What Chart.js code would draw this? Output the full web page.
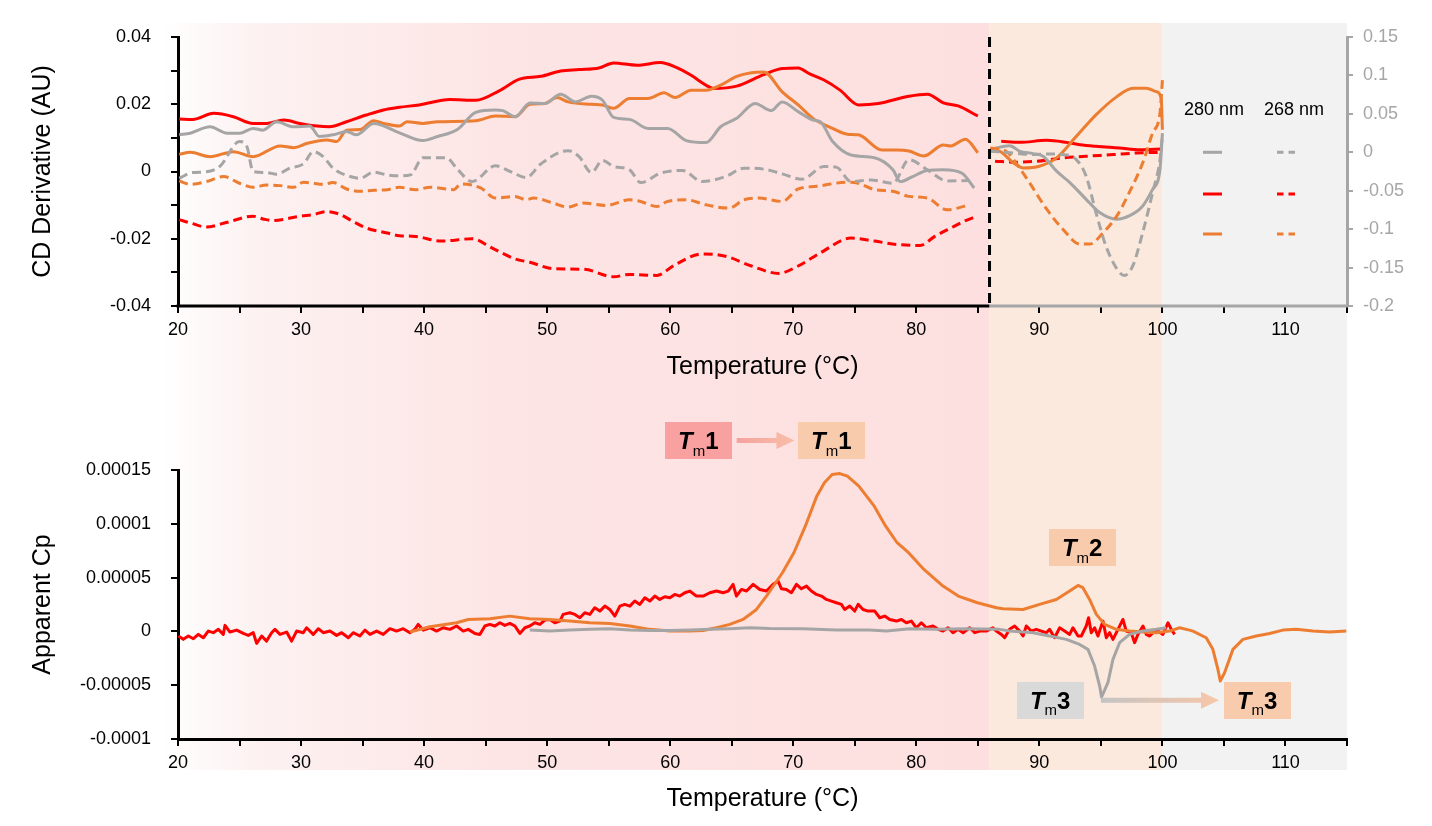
<!DOCTYPE html>
<html><head><meta charset="utf-8">
<script src="https://cdn.jsdelivr.net/npm/chart.js@4.4.0/dist/chart.umd.min.js"></script>
<style>
html,body{margin:0;padding:0;background:#fff;}
#wrap{position:relative;width:1432px;height:826px;overflow:hidden;}
#wrap canvas{position:absolute;left:0;top:0;}
</style></head><body>
<div id="wrap"><canvas id="cBottom" width="1432" height="826"></canvas><canvas id="cTop" width="1432" height="826"></canvas></div>
<script>
// ---------------- DATA ----------------
// Top panel, left part (CD derivative, left axis), [temperature, value]
const cdGray280 = [[20.1,0.0109],[21.0,0.0114],[22.6,0.0133],[24.0,0.0114],[25.0,0.0114],[26.1,0.0128],[26.9,0.0123],[28.0,0.0148],[29.4,0.0133],[30.7,0.0135],[31.5,0.0104],[32.6,0.0109],[33.7,0.0119],[34.5,0.0109],[35.9,0.0143],[38.0,0.0115],[39.9,0.0092],[41.1,0.0104],[42.7,0.0125],[44.2,0.0176],[45.8,0.0183],[46.4,0.0181],[47.4,0.0163],[48.6,0.0204],[49.8,0.0202],[51.1,0.0230],[52.3,0.0207],[53.6,0.0224],[54.5,0.0212],[55.4,0.0161],[56.7,0.0155],[58.2,0.0128],[59.8,0.0128],[61.3,0.0092],[62.9,0.0086],[64.1,0.0133],[65.4,0.0158],[66.9,0.0202],[68.2,0.0181],[69.1,0.0207],[70.4,0.0178],[71.6,0.0153],[72.2,0.0148],[73.2,0.0089],[74.7,0.0049],[76.6,0.0041],[78.1,0.0005],[78.7,-0.0030],[79.7,-0.0015],[80.9,0.0003],[82.2,0.0005],[83.7,-0.0005],[84.7,-0.0049]];
const cdGray268 = [[20.1,-0.0020],[21.2,-0.0003],[22.3,-0.0001],[23.4,0.0015],[25.0,0.0089],[25.6,0.0074],[26.1,0.0000],[27.2,-0.0003],[28.0,-0.0008],[29.1,0.0010],[30.2,0.0023],[31.0,0.0059],[31.8,0.0044],[32.6,0.0010],[34.0,-0.0015],[34.8,-0.0020],[35.9,-0.0002],[37.0,-0.0010],[38.0,-0.0013],[38.9,-0.0010],[39.9,0.0041],[41.8,0.0041],[42.7,0.0007],[43.9,-0.0030],[45.8,0.0017],[47.0,0.0000],[48.3,-0.0018],[49.5,0.0023],[51.7,0.0062],[52.6,0.0044],[53.6,-0.0003],[54.5,0.0033],[55.4,0.0015],[56.7,0.0005],[57.6,-0.0033],[59.2,-0.0005],[61.0,0.0003],[62.6,-0.0030],[64.5,-0.0015],[66.0,0.0010],[67.6,0.0007],[69.1,-0.0007],[70.7,-0.0023],[72.5,0.0015],[73.5,0.0013],[74.7,-0.0030],[76.3,-0.0025],[78.1,-0.0035],[79.4,0.0035],[80.9,0.0005],[82.5,-0.0028],[84.3,-0.0027]];
const cdRed280 = [[20.1,0.0156],[21.2,0.0155],[22.9,0.0173],[24.5,0.0163],[26.1,0.0143],[27.2,0.0143],[28.6,0.0153],[29.9,0.0143],[31.3,0.0135],[32.3,0.0133],[33.7,0.0148],[35.3,0.0168],[36.7,0.0183],[38.0,0.0191],[39.6,0.0198],[42.1,0.0214],[44.2,0.0212],[46.1,0.0240],[47.7,0.0274],[49.5,0.0283],[51.1,0.0299],[52.6,0.0303],[54.2,0.0308],[55.4,0.0323],[57.3,0.0316],[59.2,0.0324],[60.4,0.0311],[61.7,0.0286],[62.9,0.0257],[63.5,0.0247],[65.4,0.0254],[67.6,0.0288],[69.1,0.0306],[70.4,0.0308],[71.3,0.0291],[72.5,0.0272],[73.8,0.0242],[75.3,0.0198],[76.9,0.0202],[79.4,0.0224],[80.9,0.0230],[82.2,0.0204],[83.4,0.0195],[85.0,0.0165]];
const cdRed268 = [[20.1,-0.0143],[21.0,-0.0153],[22.3,-0.0165],[24.0,-0.0151],[26.1,-0.0133],[26.9,-0.0141],[27.7,-0.0146],[28.8,-0.0141],[29.9,-0.0133],[31.0,-0.0128],[32.1,-0.0119],[33.2,-0.0128],[34.2,-0.0148],[35.3,-0.0168],[37.0,-0.0183],[38.0,-0.0191],[39.3,-0.0193],[41.4,-0.0207],[43.9,-0.0200],[45.5,-0.0227],[47.4,-0.0260],[48.6,-0.0270],[50.5,-0.0289],[53.0,-0.0291],[55.4,-0.0313],[56.7,-0.0306],[58.9,-0.0309],[60.4,-0.0277],[62.6,-0.0245],[64.5,-0.0252],[66.6,-0.0281],[68.8,-0.0303],[70.4,-0.0281],[72.2,-0.0242],[74.7,-0.0198],[76.6,-0.0207],[78.4,-0.0217],[80.3,-0.0220],[81.5,-0.0193],[82.8,-0.0168],[84.0,-0.0146],[84.8,-0.0135]];
const cdOrange280 = [[20.1,0.0051],[21.0,0.0057],[22.6,0.0044],[24.5,0.0059],[26.1,0.0044],[28.3,0.0076],[29.4,0.0071],[30.5,0.0084],[32.1,0.0094],[32.9,0.0089],[33.7,0.0123],[34.8,0.0125],[35.9,0.0151],[36.7,0.0143],[38.0,0.0135],[38.6,0.0148],[39.9,0.0143],[41.1,0.0148],[44.2,0.0151],[45.8,0.0165],[47.4,0.0163],[48.6,0.0200],[49.8,0.0202],[50.8,0.0220],[51.7,0.0207],[53.6,0.0200],[54.5,0.0198],[55.4,0.0188],[56.7,0.0217],[58.2,0.0217],[59.5,0.0234],[60.4,0.0220],[61.7,0.0242],[62.9,0.0242],[64.1,0.0257],[65.4,0.0283],[66.6,0.0294],[67.6,0.0296],[69.1,0.0237],[70.4,0.0198],[71.6,0.0158],[73.2,0.0128],[74.4,0.0111],[75.3,0.0109],[77.2,0.0064],[78.4,0.0064],[79.4,0.0061],[80.6,0.0046],[82.2,0.0079],[82.8,0.0076],[84.0,0.0096],[85.0,0.0056]];
const cdOrange268 = [[20.1,-0.0028],[21.0,-0.0038],[22.3,-0.0030],[23.7,-0.0015],[25.0,-0.0035],[26.1,-0.0047],[27.2,-0.0040],[28.3,-0.0042],[29.4,-0.0047],[30.2,-0.0032],[31.0,-0.0035],[31.8,-0.0038],[32.6,-0.0033],[33.7,-0.0052],[34.8,-0.0059],[35.9,-0.0056],[37.0,-0.0054],[38.0,-0.0047],[39.3,-0.0054],[40.5,-0.0047],[42.4,-0.0054],[43.0,-0.0037],[44.6,-0.0049],[45.8,-0.0079],[47.4,-0.0074],[48.3,-0.0084],[48.9,-0.0079],[50.5,-0.0094],[51.7,-0.0106],[52.9,-0.0094],[54.8,-0.0101],[56.7,-0.0084],[57.6,-0.0089],[58.9,-0.0104],[59.8,-0.0089],[61.3,-0.0084],[62.9,-0.0099],[64.8,-0.0109],[66.0,-0.0084],[67.2,-0.0079],[69.1,-0.0089],[70.4,-0.0052],[71.9,-0.0044],[74.4,-0.0032],[75.3,-0.0035],[76.6,-0.0054],[78.1,-0.0059],[79.4,-0.0074],[80.9,-0.0079],[82.5,-0.0114],[84.3,-0.0099]];

// Top panel, right part (right axis)
const hiGray280 = [[86.0,0.0034],[87.6,0.0086],[88.4,0.0013],[89.5,-0.0017],[90.3,-0.0052],[91.4,-0.0246],[92.5,-0.0397],[93.8,-0.0612],[94.9,-0.0784],[96.3,-0.0871],[97.3,-0.0828],[98.4,-0.0698],[99.2,-0.0483],[99.8,-0.0224],[100.0,0.025]];
const hiGray268 = [[86.0,0.0013],[87.9,-0.0009],[89.5,-0.0030],[90.6,-0.0022],[91.9,-0.0030],[93.0,-0.0095],[93.8,-0.0310],[94.6,-0.0784],[95.4,-0.1216],[96.3,-0.1517],[96.9,-0.1603],[97.6,-0.1474],[98.4,-0.1043],[99.2,-0.0526],[99.8,-0.0095],[100.0,0.0228]];
const hiRed280 = [[86.9,0.0142],[88.4,0.0129],[90.6,0.0155],[92.2,0.0129],[93.3,0.0099],[94.6,0.0078],[96.5,0.0056],[98.2,0.0034],[100.0,0.0043]];
const hiRed268 = [[86.4,-0.0116],[87.9,-0.0129],[89.8,-0.0116],[91.9,-0.0073],[93.8,-0.0052],[96.0,-0.0030],[97.9,-0.0009],[100.0,0.0]];
const hiOrange280 = [[86.0,0.0034],[86.8,0.0013],[87.9,-0.0138],[88.7,-0.0203],[90.0,-0.0181],[91.4,-0.0073],[93.0,0.0207],[94.6,0.0487],[96.3,0.0724],[97.6,0.0832],[98.7,0.0832],[99.5,0.0789],[99.9,0.0703],[100.0,0.0293]];
const hiOrange268 = [[86.0,0.0056],[87.3,0.0013],[88.1,-0.0138],[89.2,-0.0397],[90.6,-0.0741],[91.9,-0.1000],[93.3,-0.1194],[94.1,-0.1194],[95.2,-0.1043],[96.3,-0.0828],[97.3,-0.0526],[98.4,-0.0138],[99.2,0.0250],[99.8,0.0509],[100.0,0.094]];

// Bottom panel (apparent Cp)
const cpRed = [[20.03,-4.3e-6],[20.43,-7.4e-6],[20.84,-4.3e-6],[21.25,-6.8e-6],[21.65,-2.8e-6],[22.06,-5.9e-6],[22.46,0.3e-6],[22.87,-1.2e-6],[23.28,1.9e-6],[23.68,-2.8e-6],[23.82,5.6e-6],[24.22,-0.6e-6],[24.77,1.2e-6],[25.31,-1.9e-6],[25.71,-3.7e-6],[26.12,-1.2e-6],[26.39,-11.1e-6],[26.8,-4.3e-6],[27.2,-9.0e-6],[27.61,-1.2e-6],[27.88,1.9e-6],[28.29,-2.8e-6],[28.83,-0.6e-6],[29.23,-9.0e-6],[29.64,0.3e-6],[30.18,-1.2e-6],[30.45,3.4e-6],[30.99,-2.8e-6],[31.4,2.5e-6],[31.81,-1.2e-6],[32.35,0.3e-6],[32.89,-3.7e-6],[33.3,-1.2e-6],[33.84,-5.9e-6],[34.24,-1.2e-6],[34.78,-4.3e-6],[35.19,1.2e-6],[35.6,-2.8e-6],[36.14,0.3e-6],[36.68,-2.8e-6],[37.22,2.5e-6],[37.76,0.3e-6],[38.3,2.5e-6],[38.85,-1.2e-6],[39.25,1.9e-6],[39.52,6.5e-6],[39.93,1.2e-6],[40.47,3.4e-6],[41.01,0.3e-6],[41.55,3.4e-6],[42.1,1.9e-6],[42.64,5.0e-6],[43.18,0.3e-6],[43.59,1.9e-6],[44.13,-1.9e-6],[44.53,-2.8e-6],[44.94,5.0e-6],[45.34,6.5e-6],[45.75,5.0e-6],[46.16,8.0e-6],[46.56,5.6e-6],[46.97,7.4e-6],[47.38,5.0e-6],[47.78,-1.9e-6],[48.19,3.4e-6],[48.59,5.0e-6],[49.0,8.0e-6],[49.41,6.5e-6],[49.81,10.5e-6],[50.22,11.1e-6],[50.62,8.0e-6],[51.03,9.6e-6],[51.3,15.8e-6],[51.84,17.3e-6],[52.25,15.8e-6],[52.66,12.7e-6],[53.06,17.3e-6],[53.47,15.8e-6],[53.87,22.0e-6],[54.28,18.9e-6],[54.69,23.5e-6],[55.09,20.4e-6],[55.5,14.2e-6],[55.91,23.5e-6],[56.31,25.1e-6],[56.72,23.5e-6],[57.12,28.2e-6],[57.53,25.1e-6],[57.94,31.3e-6],[58.34,28.2e-6],[58.75,32.8e-6],[59.15,29.7e-6],[59.56,32.2e-6],[59.97,31.3e-6],[60.37,34.4e-6],[60.78,32.8e-6],[61.19,35.9e-6],[61.59,37.5e-6],[62.13,32.8e-6],[62.68,32.8e-6],[63.22,35.9e-6],[63.76,37.5e-6],[64.3,35.9e-6],[64.71,37.5e-6],[65.11,43.7e-6],[65.38,32.8e-6],[65.79,39.0e-6],[66.2,37.5e-6],[66.74,43.7e-6],[67.28,39.0e-6],[67.82,37.5e-6],[68.36,43.7e-6],[68.77,46.7e-6],[69.04,39.6e-6],[69.44,39.0e-6],[69.85,35.9e-6],[70.26,43.7e-6],[70.66,39.6e-6],[71.07,42.1e-6],[71.47,37.5e-6],[71.88,34.4e-6],[72.29,32.8e-6],[72.69,29.7e-6],[73.1,28.2e-6],[73.5,26.6e-6],[73.91,25.1e-6],[74.18,20.4e-6],[74.59,23.5e-6],[74.99,18.9e-6],[75.27,25.1e-6],[75.67,20.4e-6],[76.08,18.9e-6],[76.62,18.9e-6],[77.03,12.7e-6],[77.43,14.2e-6],[77.84,11.1e-6],[78.38,9.6e-6],[78.79,11.1e-6],[79.19,8.0e-6],[79.6,9.6e-6],[80.0,3.4e-6],[80.41,8.0e-6],[80.82,3.4e-6],[81.36,5.0e-6],[81.77,1.9e-6],[82.17,0.3e-6],[82.58,3.4e-6],[82.98,-1.2e-6],[83.39,1.9e-6],[83.8,-1.2e-6],[84.34,3.4e-6],[84.75,-1.2e-6],[85.15,0.3e-6],[85.69,0.3e-6],[85.96,1.9e-6],[86.23,3.4e-6],[86.5,0.3e-6],[86.91,-2.8e-6],[87.18,-5.9e-6],[87.58,1.9e-6],[87.99,5.0e-6],[88.4,0.3e-6],[88.67,-4.3e-6],[88.94,5.0e-6],[89.34,0.3e-6],[89.75,1.9e-6],[90.16,0.3e-6],[90.56,-1.2e-6],[90.83,1.9e-6],[91.24,-5.9e-6],[91.65,3.4e-6],[92.05,0.3e-6],[92.46,-2.8e-6],[92.73,3.4e-6],[93.14,-4.3e-6],[93.41,-4.3e-6],[93.81,5.0e-6],[94.0,12.7e-6],[94.22,-1.2e-6],[94.49,3.4e-6],[94.76,-4.3e-6],[95.17,9.6e-6],[95.44,-5.9e-6],[95.71,-1.2e-6],[95.98,-7.4e-6],[96.39,1.9e-6],[96.79,11.1e-6],[97.06,0.3e-6],[97.47,-1.2e-6],[97.74,-10.5e-6],[98.01,-2.8e-6],[98.42,5.0e-6],[98.69,-2.8e-6],[98.96,-4.3e-6],[99.36,0.3e-6],[99.63,0.3e-6],[100.04,-2.8e-6],[100.45,8.0e-6],[100.72,1.9e-6],[100.99,-2.8e-6]];
const cpOrange = [[38.85,-0.6e-6],[40.47,4.3e-6],[42.64,8.0e-6],[43.59,11.0e-6],[45.34,11.8e-6],[46.97,14.2e-6],[48.59,11.8e-6],[50.22,11.1e-6],[51.84,9.6e-6],[53.47,8.0e-6],[55.09,7.4e-6],[56.72,5.0e-6],[58.34,1.9e-6],[59.97,0.3e-6],[61.59,0.3e-6],[62.68,0.9e-6],[63.76,3.4e-6],[64.84,6.5e-6],[65.92,11.1e-6],[67.01,20.4e-6],[67.82,32.8e-6],[69.12,54.5e-6],[70.05,73.1e-6],[70.98,97.8e-6],[71.91,125.7e-6],[72.53,138.1e-6],[73.16,145.8e-6],[73.78,146.7e-6],[74.4,144.3e-6],[75.33,135.0e-6],[76.58,116.4e-6],[77.51,97.8e-6],[78.44,82.4e-6],[79.37,73.1e-6],[80.62,57.6e-6],[82.17,42.1e-6],[83.41,32.8e-6],[84.97,26.6e-6],[86.52,22.0e-6],[87.04,21.0e-6],[88.67,20.4e-6],[90.02,25.1e-6],[91.38,29.7e-6],[92.46,37.5e-6],[93.14,42.7e-6],[93.54,40.6e-6],[94.08,29.7e-6],[94.63,15.8e-6],[95.3,6.5e-6],[96.25,1.9e-6],[97.33,0.3e-6],[98.42,-0.6e-6],[99.5,-1.2e-6],[100.58,0.3e-6],[101.4,3.4e-6],[102.2,1.2e-6],[102.48,0.3e-6],[103.56,-5.9e-6],[104.1,-16.7e-6],[104.51,-35.3e-6],[104.7,-46.1e-6],[105.05,-38.4e-6],[105.73,-16.7e-6],[106.54,-7.4e-6],[107.63,-4.3e-6],[108.71,-1.9e-6],[109.79,1.2e-6],[110.87,1.9e-6],[112.23,0.3e-6],[113.58,-0.6e-6],[114.94,0.3e-6]];
const cpGray = [[48.59,1.2e-6],[50.22,0.3e-6],[51.84,1.2e-6],[53.47,1.9e-6],[55.09,2.5e-6],[56.72,1.2e-6],[58.34,0.9e-6],[59.97,0.9e-6],[61.59,1.2e-6],[63.22,1.9e-6],[64.84,2.5e-6],[66.47,3.4e-6],[68.09,2.8e-6],[70.8,2.5e-6],[73.5,1.2e-6],[76.21,1.2e-6],[77.57,0.3e-6],[79.46,2.5e-6],[81.63,1.9e-6],[84.34,2.5e-6],[86.77,1.9e-6],[87.58,0.3e-6],[89.48,-1.2e-6],[90.83,-4.3e-6],[92.19,-7.4e-6],[93.27,-12.1e-6],[93.95,-16.7e-6],[94.49,-32.2e-6],[94.9,-50.8e-6],[95.05,-61.0e-6],[95.57,-47.7e-6],[95.98,-26.0e-6],[96.52,-10.5e-6],[97.33,-2.8e-6],[98.42,0.3e-6],[99.5,1.9e-6],[100.31,3.4e-6]];

// Axis ranges / ticks
const xRange = [20, 115];
const cdRangeLeft = [-0.04, 0.04];
const cdRangeRight = [-0.2, 0.15];
const cpRange = [-0.0001, 0.00015];
const splitTemp = 85.95;     // boundary between left and right segment
const bandEdges = [85.95, 100]; // colored temperature regions

// Legend labels
const legendCols = ['280 nm', '268 nm'];

// Annotations (temperature, Cp value)
const tmBoxes = [
  {t: 62.28, v: 17.7e-5, label: '1', fill: '#f9a0a0'},
  {t: 73.09, v: 17.7e-5, label: '1', fill: '#f8cbad'},
  {t: 93.48, v: 7.76e-5, label: '2', fill: '#f8cbad'},
  {t: 90.88, v: -6.41e-5, label: '3', fill: '#d9d9d9'},
  {t: 107.69, v: -6.41e-5, label: '3', fill: '#f8cbad'}
];
const tmArrows = [
  {t1: 65.4, t2: 70.1, v: 17.75e-5, c1: '#f5a2a0', c2: '#f8bea8'},
  {t1: 95.0, t2: 104.6, v: -6.41e-5, c1: '#c4c4c4', c2: '#f8c6a8'}
];

// ---------------- STYLE ----------------
const FONT = '"Liberation Sans", Arial, Helvetica, sans-serif';
const C_GRAY = '#a5a5a5', C_RED = '#ff0000', C_ORANGE = '#ed7d31', C_AXGRAY = '#a6a6a6';
const DASH = [9, 5];

function lineDs(pairs, color, axis, dashed, smooth, width) {
  return {
    data: pairs.map(([x, y]) => ({x, y})),
    borderColor: color, borderWidth: width || 3,
    borderDash: dashed ? DASH : [],
    yAxisID: axis, pointRadius: 0, fill: false,
    cubicInterpolationMode: smooth ? 'monotone' : 'default',
    tension: 0, borderJoinStyle: 'round', borderCapStyle: 'butt'
  };
}

function xScaleOpts(height) {
  return {
    type: 'linear', position: 'bottom', min: xRange[0], max: xRange[1],
    afterFit: s => { s.height = height; },
    ticks: {
      stepSize: 5, autoSkip: false, maxRotation: 0, padding: 6, color: '#000',
      font: {family: FONT, size: 18},
      callback: v => (Math.round(v) % 10 === 0 && v < xRange[1]) ? String(Math.round(v)) : ''
    },
    grid: {drawOnChartArea: false, drawTicks: true, tickLength: 7, color: '#000', lineWidth: 2}
  };
}

function drawTm(ctx, cx, cy, digit, fill) {
  const w = 67, h = 37;
  ctx.fillStyle = fill;
  ctx.fillRect(Math.round(cx - w / 2), Math.round(cy - h / 2), w, h);
  const fT = 'italic bold 24px ' + FONT, fM = '15px ' + FONT, fD = 'bold 24px ' + FONT;
  ctx.font = fT; const wT = ctx.measureText('T').width;
  ctx.font = fM; const wM = ctx.measureText('m').width;
  ctx.font = fD; const wD = ctx.measureText(digit).width;
  let x = cx - (wT + wM + wD) / 2;
  const base = cy + 8.5;
  ctx.fillStyle = '#000'; ctx.textAlign = 'left'; ctx.textBaseline = 'alphabetic';
  ctx.font = fT; ctx.fillText('T', x, base); x += wT;
  ctx.font = fM; ctx.fillText('m', x, base + 6.5); x += wM;
  ctx.font = fD; ctx.fillText(digit, x, base);
}

function drawArrow(ctx, x1, x2, y, c1, c2) {
  const g = ctx.createLinearGradient(x1, 0, x2, 0);
  g.addColorStop(0, c1); g.addColorStop(1, c2);
  ctx.fillStyle = g;
  const headL = 18, headH = 17, shaft = 5;
  ctx.beginPath();
  ctx.moveTo(x1, y - shaft / 2); ctx.lineTo(x2 - headL, y - shaft / 2);
  ctx.lineTo(x2 - headL, y - headH / 2); ctx.lineTo(x2, y);
  ctx.lineTo(x2 - headL, y + headH / 2); ctx.lineTo(x2 - headL, y + shaft / 2);
  ctx.lineTo(x1, y + shaft / 2); ctx.closePath(); ctx.fill();
}

// ---------------- BOTTOM CHART (also paints background bands) ----------------
const bottomDecor = {
  id: 'bottomDecor',
  beforeDraw(chart) {
    const {ctx, chartArea: a, scales: {x}} = chart;
    const bandTop = 23, bandBottom = 770;
    const xStart = a.left - 18;
    const xs = x.getPixelForValue(bandEdges[0]);
    const x100 = x.getPixelForValue(bandEdges[1]);
    ctx.save();
    const g = ctx.createLinearGradient(xStart, 0, xs, 0);
    g.addColorStop(0, '#ffffff'); g.addColorStop(0.12, '#fdf1f1');
    g.addColorStop(0.4, '#fde5e5'); g.addColorStop(1, '#fddfdf');
    ctx.fillStyle = g; ctx.fillRect(xStart, bandTop, xs - xStart, bandBottom - bandTop);
    ctx.fillStyle = '#fce9de'; ctx.fillRect(xs, bandTop, x100 - xs, bandBottom - bandTop);
    ctx.fillStyle = '#f2f2f2'; ctx.fillRect(x100, bandTop, a.right - x100, bandBottom - bandTop);
    ctx.restore();
  },
  afterDraw(chart) {
    const {ctx, chartArea: a, scales: {x, y}} = chart;
    ctx.save();
    ctx.fillStyle = '#000';
    ctx.font = '25px ' + FONT; ctx.textAlign = 'center'; ctx.textBaseline = 'middle';
    ctx.fillText('Temperature (\u00B0C)', (a.left + a.right) / 2, a.bottom + 60);
    ctx.translate(43, (a.top + a.bottom) / 2); ctx.rotate(-Math.PI / 2);
    ctx.fillText('Apparent Cp', 0, 0);
    ctx.restore();
    ctx.save();
    tmArrows.forEach(ar => drawArrow(ctx, x.getPixelForValue(ar.t1), x.getPixelForValue(ar.t2), y.getPixelForValue(ar.v), ar.c1, ar.c2));
    tmBoxes.forEach(b => drawTm(ctx, x.getPixelForValue(b.t), y.getPixelForValue(b.v), b.label, b.fill));
    ctx.restore();
  }
};

new Chart(document.getElementById('cBottom'), {
  type: 'line',
  data: {datasets: [
    lineDs(cpGray, C_GRAY, 'y', false, false, 3),
    lineDs(cpOrange, C_ORANGE, 'y', false, false, 3),
    lineDs(cpRed, C_RED, 'y', false, false, 3)
  ]},
  options: {
    responsive: false, animation: false, devicePixelRatio: 1,
    layout: {padding: {top: 470, bottom: 0, left: 0, right: 85}},
    plugins: {legend: {display: false}, tooltip: {enabled: false}},
    scales: {
      x: Object.assign(xScaleOpts(87), {border: {display: true, color: '#000', width: 3}}),
      y: {
        position: 'left', min: cpRange[0], max: cpRange[1],
        afterFit: s => { s.width = 178; },
        ticks: {stepSize: 0.00005, padding: 20, color: '#000', font: {family: FONT, size: 18},
          callback: v => String(Math.round(v * 1e5) / 1e5)},
        grid: {drawOnChartArea: false, drawTicks: true, tickLength: 7, color: '#000', lineWidth: 2},
        border: {display: true, color: '#000', width: 3}
      }
    }
  },
  plugins: [bottomDecor]
});

// ---------------- TOP CHART ----------------
const topDecor = {
  id: 'topDecor',
  afterDraw(chart) {
    const {ctx, chartArea: a, scales: {x, yR}} = chart;
    const xs = x.getPixelForValue(splitTemp);
    ctx.save();
    ctx.lineWidth = 3; ctx.lineCap = 'butt';
    ctx.strokeStyle = '#000';
    ctx.beginPath(); ctx.moveTo(a.left - 1.5, a.bottom); ctx.lineTo(xs, a.bottom); ctx.stroke();
    ctx.strokeStyle = C_AXGRAY;
    ctx.beginPath(); ctx.moveTo(xs, a.bottom); ctx.lineTo(a.right + 1.5, a.bottom); ctx.stroke();
    ctx.strokeStyle = '#000'; ctx.setLineDash([10, 6]);
    ctx.beginPath(); ctx.moveTo(xs, a.top); ctx.lineTo(xs, a.bottom); ctx.stroke();
    ctx.setLineDash([]);
    // titles
    ctx.fillStyle = '#000'; ctx.font = '25px ' + FONT;
    ctx.textAlign = 'center'; ctx.textBaseline = 'middle';
    ctx.fillText('Temperature (\u00B0C)', (a.left + a.right) / 2, a.bottom + 61);
    ctx.save();
    ctx.translate(43, (a.top + a.bottom) / 2); ctx.rotate(-Math.PI / 2);
    ctx.fillText('CD Derivative (AU)', 0, 0);
    ctx.restore();
    // legend
    const col1 = a.right - 133, col2 = a.right - 53;
    ctx.font = '18px ' + FONT;
    ctx.fillText(legendCols[0], col1, a.top + 73);
    ctx.fillText(legendCols[1], col2, a.top + 73);
    const rows = [[C_GRAY, yR.getPixelForValue(0)], [C_RED, a.top + 157], [C_ORANGE, a.top + 197]];
    ctx.lineWidth = 3;
    rows.forEach(([c, yy]) => {
      ctx.strokeStyle = c;
      ctx.beginPath(); ctx.moveTo(col1 - 11, yy); ctx.lineTo(col1 + 8, yy); ctx.stroke();
      ctx.setLineDash([6.5, 5]);
      ctx.beginPath(); ctx.moveTo(col2 - 17, yy); ctx.lineTo(col2 + 1, yy); ctx.stroke();
      ctx.setLineDash([]);
    });
    ctx.restore();
  }
};

new Chart(document.getElementById('cTop'), {
  type: 'line',
  data: {datasets: [
    lineDs(cdGray268, C_GRAY, 'yL', true, true),
    lineDs(cdOrange268, C_ORANGE, 'yL', true, true),
    lineDs(cdRed268, C_RED, 'yL', true, true),
    lineDs(cdGray280, C_GRAY, 'yL', false, true),
    lineDs(cdOrange280, C_ORANGE, 'yL', false, true),
    lineDs(cdRed280, C_RED, 'yL', false, true),
    lineDs(hiGray268, C_GRAY, 'yR', true, true),
    lineDs(hiOrange268, C_ORANGE, 'yR', true, true),
    lineDs(hiGray280, C_GRAY, 'yR', false, true),
    lineDs(hiOrange280, C_ORANGE, 'yR', false, true),
    lineDs(hiRed268, C_RED, 'yR', true, true),
    lineDs(hiRed280, C_RED, 'yR', false, true)
  ]},
  options: {
    responsive: false, animation: false, devicePixelRatio: 1,
    layout: {padding: {top: 37, bottom: 413, left: 0, right: 0}},
    plugins: {legend: {display: false}, tooltip: {enabled: false}},
    scales: {
      x: Object.assign(xScaleOpts(107), {border: {display: false}}),
      yL: {
        position: 'left', min: cdRangeLeft[0], max: cdRangeLeft[1],
        afterFit: s => { s.width = 178; },
        ticks: {stepSize: 0.01, padding: 20, color: '#000', font: {family: FONT, size: 18},
          callback: v => { const r = Math.round(v * 100); return r % 2 === 0 ? String(r / 100) : ''; }},
        grid: {drawOnChartArea: false, drawTicks: true, tickLength: 7, color: '#000', lineWidth: 2},
        border: {display: true, color: '#000', width: 3}
      },
      yR: {
        position: 'right', min: cdRangeRight[0], max: cdRangeRight[1],
        afterFit: s => { s.width = 85; },
        ticks: {stepSize: 0.05, padding: 10, color: C_AXGRAY, font: {family: FONT, size: 18},
          callback: v => String(Math.round(v * 100) / 100)},
        grid: {drawOnChartArea: false, drawTicks: true, tickLength: 6, color: C_AXGRAY, lineWidth: 2},
        border: {display: true, color: C_AXGRAY, width: 3}
      }
    }
  },
  plugins: [topDecor]
});
</script>
</body></html>
